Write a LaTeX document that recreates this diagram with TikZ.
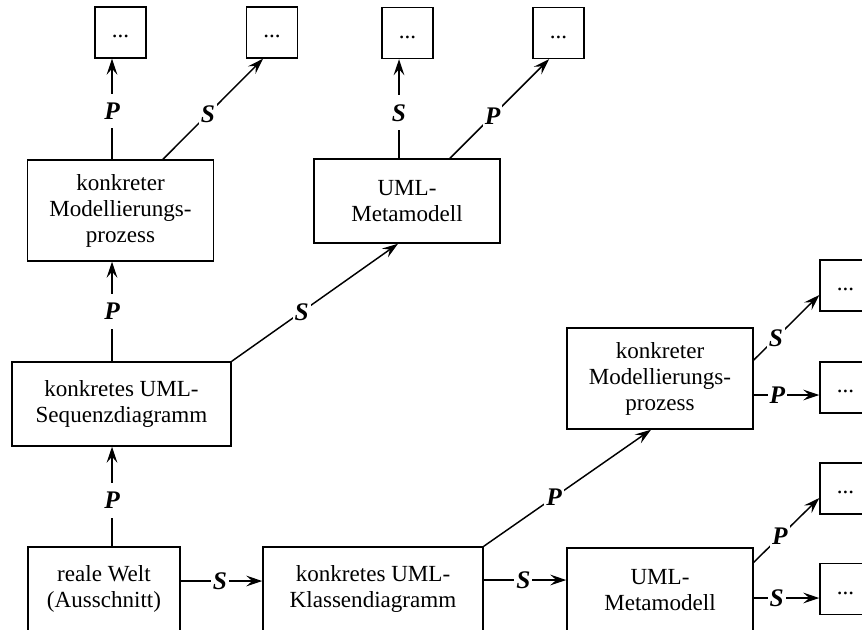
\documentclass[tikz,border=0pt]{standalone}
\usepackage{fontspec}
\setmainfont{Liberation Serif}
\usetikzlibrary{arrows.meta,calc}

\begin{document}
\begin{tikzpicture}[x=0.75pt,y=-0.75pt,
  box/.style={draw,line width=1.1pt,rectangle,align=center,inner sep=0pt,
    font=\fontsize{17.3}{19.5}\selectfont},
  wide/.style={box,minimum width=139.5pt,minimum height=63pt},
  tall/.style={box,minimum width=139.5pt,minimum height=75.75pt},
  small/.style={box,minimum width=38.25pt,minimum height=38.25pt,
    text height=11.8pt,text depth=3.8pt},
  arr/.style={line width=1.1pt,-{Stealth[length=12pt,width=8pt,inset=4.5pt]}},
  lab/.style={fill=white,inner xsep=1.5pt,inner ysep=0pt,text height=12.5pt,
    text depth=0pt,minimum height=26pt,
    font=\fontsize{19}{21}\selectfont\bfseries\itshape}]

\useasboundingbox (0,0) rectangle (862,629);
\clip (0,0) rectangle (862,629);

% columns of the vertical connectors
\coordinate (colA) at (112,0);
\coordinate (colB) at (399,0);

% main boxes
\node[tall] (k1) at (120.5,210.5) {konkreter\\Modellierungs-\\prozess};
\node[wide] (m1) at (407,201) {UML-\\Metamodell};
\node[box,minimum width=164.25pt,minimum height=63pt] (seq) at (121.5,404)
  {konkretes UML-\\Sequenzdiagramm};
\node[box,minimum width=114pt,minimum height=63pt] (welt) at (104,589)
  {reale Welt\\(Ausschnitt)};
\node[box,minimum width=165pt,minimum height=63pt] (klass) at (373,589)
  {konkretes UML-\\Klassendiagramm};
\node[wide] (m2) at (660,590) {UML-\\Metamodell};
\node[tall] (k2) at (660,378.5) {konkreter\\Modellierungs-\\prozess};

% continuation boxes
\node[small] (b1) at (120.5,32.5) {...};
\node[small] (b2) at (272,32.5) {...};
\node[small] (b3) at (407.5,33) {...};
\node[small] (b4) at (558.5,33) {...};
\node[small] (r1) at (845.5,285.5) {...};
\node[small] (r2) at (845.5,387.5) {...};
\node[small] (r3) at (845.5,488.5) {...};
\node[small] (r4) at (845.5,589) {...};

% connectors
\draw[arr] (k1.north -| colA) -- node[lab,pos=0.48]{P} (b1.south -| colA);
\draw[arr] ($(k1.north)+(42.5,0)$) -- node[lab,pos=0.45]{S} ($(b2.south)+(-9,0)$);
\draw[arr] (m1.north -| colB) -- node[lab,pos=0.46]{S} (b3.south -| colB);
\draw[arr] ($(m1.north)+(43,0)$) -- node[lab,pos=0.43]{P} ($(b4.south)+(-9.5,0)$);
\draw[arr] (seq.north -| colA) -- node[lab,pos=0.5]{P} (k1.south -| colA);
\draw[arr] (seq.north east) -- node[lab,pos=0.42]{S} ($(m1.south)+(-9,0)$);
\draw[arr] (welt.north -| colA) -- node[lab,pos=0.46]{P} (seq.south -| colA);
\draw[arr] ($(welt.east)+(0,-8)$) -- node[lab,pos=0.48]{S} ($(klass.west)+(0,-8)$);
\draw[arr] (klass.north east) -- node[lab,pos=0.42]{P} ($(k2.south)+(-9,0)$);
\draw[arr] ($(klass.east)+(0,-9)$) -- node[lab,pos=0.48]{S} ($(m2.west)+(0,-10)$);
\draw[arr] ($(m2.north east)+(0,15)$) -- node[lab,pos=0.4]{P} ($(r3.west)+(0,9.5)$);
\draw[arr] ($(m2.east)+(0,8)$) -- node[lab,pos=0.35]{S} ($(r4.west)+(0,9)$);
\draw[arr] ($(k2.east)+(0,-18.5)$) -- node[lab,pos=0.34]{S} ($(r1.west)+(0,9.5)$);
\draw[arr] ($(k2.east)+(0,16.5)$) -- node[lab,pos=0.36]{P} ($(r2.west)+(0,7.5)$);
\end{tikzpicture}
\end{document}
